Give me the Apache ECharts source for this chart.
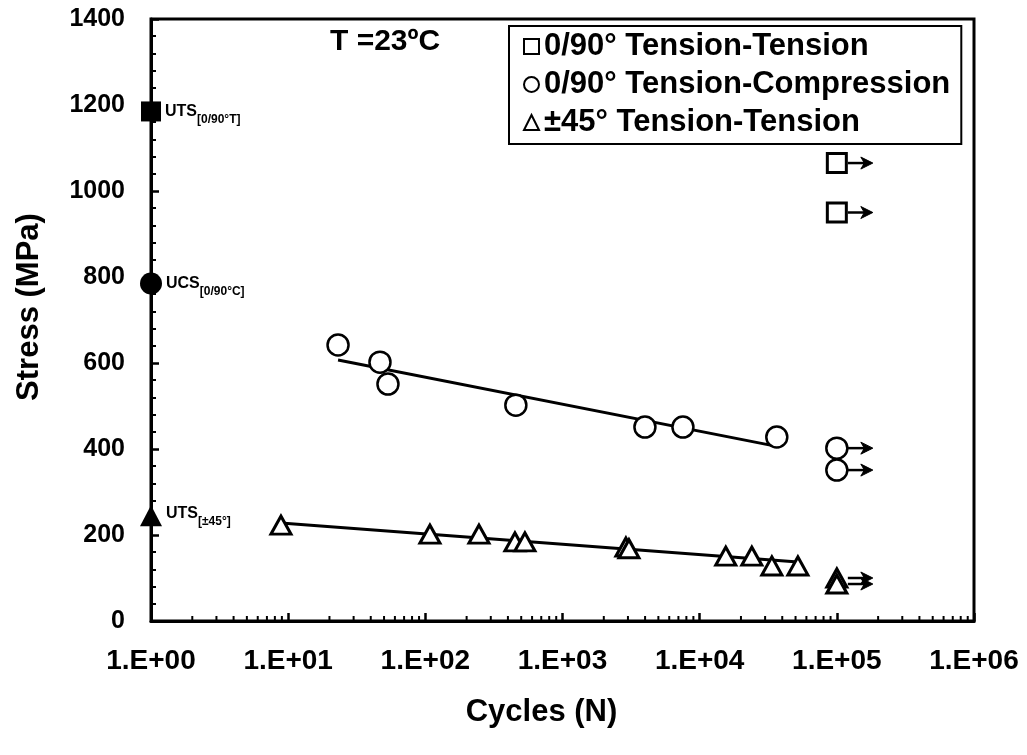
<!DOCTYPE html>
<html>
<head>
<meta charset="utf-8">
<script src="https://cdn.jsdelivr.net/npm/echarts@6/dist/echarts.min.js"></script>
<style>html,body{margin:0;padding:0;background:#fff;}#chart{width:1027px;height:755px;}</style>
</head>
<body>
<div id="chart"></div>
<script>
// ---------- data ----------
const xTickLabels = ['1.E+00', '1.E+01', '1.E+02', '1.E+03', '1.E+04', '1.E+05', '1.E+06'];
const yTickLabels = ['0', '200', '400', '600', '800', '1000', '1200', '1400'];
const xMinorMultipliers = [2, 3, 4, 5, 6, 7, 8, 9];
const xMinorDecades = [1, 10, 100, 1000, 10000, 100000];

const seriesNames = ['0/90° Tension-Tension', '0/90° Tension-Compression', '±45° Tension-Tension'];

// static strengths (plotted at N = 1)
const utsTT = [[1, 1185]];
const ucsTC = [[1, 785]];
const uts45 = [[1, 245]];

// 0/90 tension-tension: run-outs only
const ttRunoutCycles = [100000, 100000];
const ttRunoutStress = [1065, 950];

// 0/90 tension-compression
const tcCycles = [23.1, 46.7, 53.4, 457, 3990, 7550, 36500];
const tcStress = [642, 602, 551, 502, 451, 451, 428];
const tcRunoutCycles = [100000, 100000];
const tcRunoutStress = [402, 351];

// ±45 tension-tension
const pmCycles = [8.86, 108, 246, 450, 532, 2900, 3050, 15500, 24000, 33600, 52000];
const pmStress = [223, 202, 202, 184, 184, 172, 168, 151, 151, 128, 128];
const pmRunoutCycles = [100000, 100000];
const pmRunoutStress = [100, 86];

// fitted trend lines (end points)
const tcFitCycles = [23.1, 38000];
const tcFitStress = [607, 405];
const pmFitCycles = [8.86, 52000];
const pmFitStress = [228, 137];

// ---------- helpers ----------
const FONT = "'Liberation Sans', Arial, sans-serif";
const zip = (xs, ys) => xs.map((x, i) => [x, ys[i]]);
const xMinorTicks = [];
xMinorDecades.forEach(d => xMinorMultipliers.forEach(m => xMinorTicks.push([m * d, 0])));

const chart = echarts.init(document.getElementById('chart'), null, {renderer: 'canvas'});

function arrowItem(params, api) {
  const p = api.coord([api.value(0), api.value(1)]);
  const x = p[0], y = p[1];
  return {
    type: 'group',
    children: [
      {type: 'line', shape: {x1: x + 11, y1: y, x2: x + 30, y2: y},
       style: {stroke: '#000', lineWidth: 2.5}},
      {type: 'polygon', shape: {points: [[x + 36, y], [x + 24, y - 6], [x + 27.5, y], [x + 24, y + 6]]},
       style: {fill: '#000', stroke: '#000', lineWidth: 1}}
    ]
  };
}

function tickItem(params, api) {
  const p = api.coord([api.value(0), api.value(1)]);
  return {type: 'line', shape: {x1: p[0], y1: p[1], x2: p[0], y2: p[1] - 5},
          style: {stroke: '#000', lineWidth: 2}};
}

const hollow = (w) => ({color: '#fff', borderColor: '#000', borderWidth: w, opacity: 1});

function strengthLabel(main, sub, dy) {
  return {
    show: true, position: 'right', distance: 4, offset: [0, dy],
    formatter: '{a|' + main + '}{b|' + sub + '}',
    rich: {
      a: {fontFamily: FONT, fontSize: 16, fontWeight: 'bold', color: '#000', verticalAlign: 'top', lineHeight: 22},
      b: {fontFamily: FONT, fontSize: 12, fontWeight: 'bold', color: '#000', verticalAlign: 'bottom', lineHeight: 22}
    }
  };
}

const option = {
  backgroundColor: '#fff',
  animation: false,
  grid: {left: 151, right: 53, top: 19, bottom: 134, show: true, borderColor: '#000', borderWidth: 3, backgroundColor: 'transparent'},
  xAxis: {
    type: 'log', logBase: 10, min: 1, max: 1000000, splitNumber: 6,
    name: 'Cycles (N)', nameLocation: 'middle', nameGap: 76,
    nameTextStyle: {fontFamily: FONT, fontSize: 31, fontWeight: 'bold', color: '#000', padding: [0, 42, 0, 0]},
    axisLine: {show: true, lineStyle: {color: '#000', width: 3}},
    axisTick: {show: true, inside: true, length: 8, lineStyle: {color: '#000', width: 2.5}},
    axisLabel: {
      margin: 26, fontFamily: FONT, fontSize: 28, fontWeight: 'bold', color: '#000',
      formatter: v => xTickLabels[Math.round(Math.log10(v))]
    },
    splitLine: {show: false}
  },
  yAxis: {
    type: 'value', min: 0, max: 1400, interval: 200,
    name: 'Stress (MPa)', nameLocation: 'middle', nameGap: 106, nameRotate: 90,
    nameTextStyle: {fontFamily: FONT, fontSize: 31, fontWeight: 'bold', color: '#000', padding: [0, 0, 0, 26]},
    axisLine: {show: true, lineStyle: {color: '#000', width: 3}},
    axisTick: {show: true, inside: true, length: 8, lineStyle: {color: '#000', width: 2.5}},
    minorTick: {show: true, splitNumber: 5, length: 5, lineStyle: {color: '#000', width: 2}},
    axisLabel: {
      margin: 26, fontFamily: FONT, fontSize: 25, fontWeight: 'bold', color: '#000',
      formatter: v => yTickLabels[Math.round(v / 200)]
    },
    splitLine: {show: false}
  },
  legend: {
    data: seriesNames,
    orient: 'vertical', left: 509, top: 26,
    padding: [5, 11, 6, 14], itemGap: 7, itemWidth: 15, itemHeight: 15, itemTextGap: 6,
    borderColor: '#000', borderWidth: 2, backgroundColor: '#fff',
    textStyle: {fontFamily: FONT, fontSize: 31, fontWeight: 'bold', color: '#000', lineHeight: 30},
    selectedMode: false
  },
  graphic: [
    {type: 'text', left: 330, top: 27,
     style: {text: 'T =23ºC', font: "bold 30px 'Liberation Sans', Arial, sans-serif", fill: '#000'}}
  ],
  series: [
    {type: 'custom', name: 'minor x ticks', renderItem: tickItem, data: xMinorTicks, silent: true, clip: false, z: 1},
    {type: 'line', name: 'TC fit', data: zip(tcFitCycles, tcFitStress), showSymbol: false, silent: true,
     lineStyle: {color: '#000', width: 3, opacity: 1}, z: 2},
    {type: 'line', name: '±45 fit', data: zip(pmFitCycles, pmFitStress), showSymbol: false, silent: true,
     lineStyle: {color: '#000', width: 3, opacity: 1}, z: 2},
    {type: 'scatter', name: seriesNames[0], symbol: 'rect', symbolSize: 19, clip: false,
     itemStyle: hollow(3), data: zip(ttRunoutCycles, ttRunoutStress), z: 3},
    {type: 'scatter', name: seriesNames[1], symbol: 'circle', symbolSize: 21, clip: false,
     itemStyle: hollow(2.5), data: zip(tcCycles, tcStress).concat(zip(tcRunoutCycles, tcRunoutStress)), z: 3},
    {type: 'scatter', name: seriesNames[2], symbol: 'triangle', symbolSize: [20, 18], clip: false,
     itemStyle: hollow(3), data: zip(pmCycles, pmStress).concat(zip(pmRunoutCycles, pmRunoutStress)), z: 3},
    {type: 'custom', name: 'run-out arrows', renderItem: arrowItem, silent: true, clip: false, z: 4,
     data: zip(ttRunoutCycles, ttRunoutStress).concat(zip(tcRunoutCycles, tcRunoutStress), zip(pmRunoutCycles, pmRunoutStress))},
    {type: 'scatter', name: 'UTS [0/90°T]', symbol: 'rect', symbolSize: 20, clip: false, z: 5,
     itemStyle: {color: '#000', opacity: 1}, data: utsTT, label: strengthLabel('UTS', '[0/90°T]', 3)},
    {type: 'scatter', name: 'UCS [0/90°C]', symbol: 'circle', symbolSize: 22, clip: false, z: 5,
     itemStyle: {color: '#000', opacity: 1}, data: ucsTC, label: strengthLabel('UCS', '[0/90°C]', 3)},
    {type: 'scatter', name: 'UTS [±45°]', symbol: 'triangle', symbolSize: [22, 21], clip: false, z: 5,
     itemStyle: {color: '#000', opacity: 1}, data: uts45, label: strengthLabel('UTS', '[±45°]', 1)}
  ]
};
chart.setOption(option);
</script>
</body>
</html>
